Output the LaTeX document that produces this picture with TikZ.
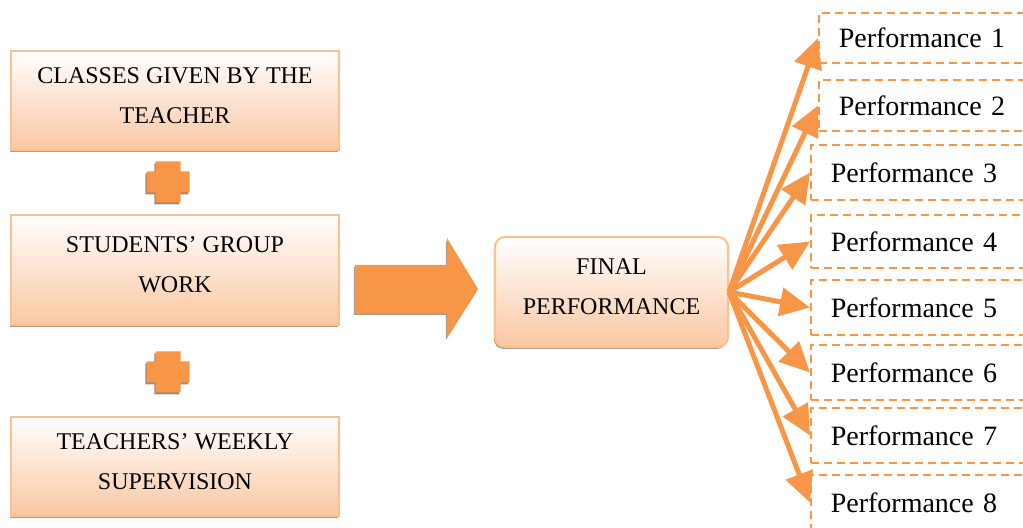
\documentclass[tikz,border=0pt]{standalone}
\usepackage{fontspec}
\setmainfont{Liberation Serif}
\usetikzlibrary{positioning,shadows,arrows.meta}

\definecolor{accent}{HTML}{F79646}
\definecolor{boxline}{HTML}{FAC08F}
\definecolor{boxfill}{HTML}{FAC7A2}

\tikzset{
  block/.style={draw=boxline, line width=1pt, top color=white, bottom color=boxfill,
    minimum width=164pt, align=center, font=\fontsize{12}{20}\selectfont,
    execute at end node={\rule[-5pt]{0pt}{5pt}},
    drop shadow={shadow xshift=-0.6pt, shadow yshift=-1pt, fill=black!60!accent, opacity=0.5}},
  perf/.style={draw=accent, dash pattern=on 4pt off 2.5pt, line width=0.8pt, anchor=west,
    text width=110pt, inner xsep=10pt, align=left, font=\fontsize{14}{16}\selectfont},
  fan/.style={-{Triangle[length=15pt,width=14pt]}, accent, line width=2.5pt},
  plussign/.pic={
    \fill[accent, drop shadow={shadow xshift=-0.6pt, shadow yshift=-1pt, fill=black!60!accent, opacity=0.6}]
      (-12.5,-20.5) -- (12.5,-20.5) -- (12.5,-10.5) -- (21.5,-10.5) -- (21.5,10.5) -- (12.5,10.5)
      -- (12.5,20.5) -- (-12.5,20.5) -- (-12.5,10.5) -- (-21.5,10.5) -- (-21.5,-10.5) -- (-12.5,-10.5) -- cycle;
  }
}

\begin{document}
\begin{tikzpicture}[x=0.5pt, y=-0.5pt]
  \useasboundingbox (0,0) rectangle (1023,528);
  \clip (0,0) rectangle (1023,528);

  % left column
  \node[block, minimum height=49.5pt] (classes) at (175,100.5) {CLASSES GIVEN BY THE\\TEACHER};
  \node[block, minimum height=55pt] (group) at (175,270) {STUDENTS’ GROUP\\WORK};
  \node[block, minimum height=49.5pt] (weekly) at (175,466.5) {TEACHERS’ WEEKLY\\SUPERVISION};
  \pic at (168,182) {plussign};
  \pic at (168,372) {plussign};

  % big arrow
  \fill[accent, drop shadow={shadow xshift=-0.6pt, shadow yshift=-1pt, fill=black!60!accent, opacity=0.5}]
    (355,265) -- (447,265) -- (447,238) -- (478,289) -- (447,338) -- (447,313) -- (355,313) -- cycle;

  \node[block, rounded corners=5pt, minimum width=116.5pt, minimum height=55pt] (final) at (611.5,292) {FINAL\\PERFORMANCE};

  % performances
  \node[perf, minimum height=25pt] (p1) at (818,38) {Performance 1};
  \node[perf, minimum height=25.5pt] (p2) at (818,105.5) {Performance 2};
  \node[perf, minimum height=27.5pt] (p3) at (810,172.5) {Performance 3};
  \node[perf, minimum height=26.5pt] (p4) at (810,241.5) {Performance 4};
  \node[perf, minimum height=27.5pt] (p5) at (810,307.5) {Performance 5};
  \node[perf, minimum height=27.5pt] (p6) at (810,372.5) {Performance 6};
  \node[perf, minimum height=27.5pt] (p7) at (810,435.5) {Performance 7};
  \node[perf, minimum height=27.5pt] (p8) at (810,502.5) {Performance 8};

  \path[fan]
    (final.east) edge (p1.west)
    (final.east) edge (p2.west)
    (final.east) edge (p3.west)
    (final.east) edge (p4.west)
    (final.east) edge (p5.west)
    (final.east) edge (p6.west)
    (final.east) edge (p7.west)
    (final.east) edge (p8.west);
\end{tikzpicture}
\end{document}
